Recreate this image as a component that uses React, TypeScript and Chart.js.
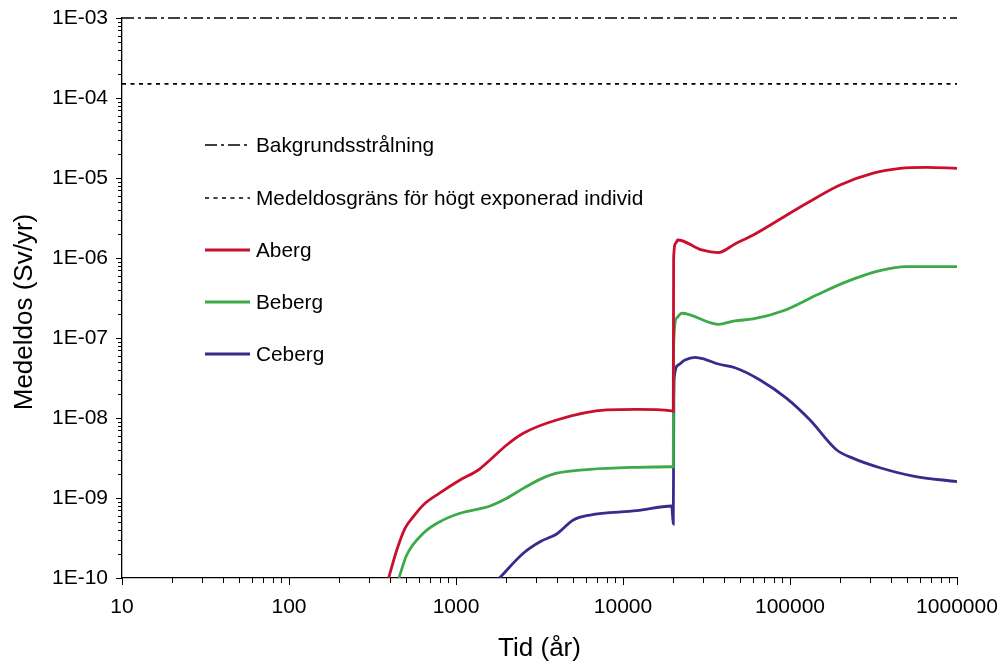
import React, { useEffect, useRef } from "react";
import { Chart, registerables } from "chart.js";

Chart.register(...registerables);

// ---------- data ----------
const xTickLabels = ["10", "100", "1000", "10000", "100000", "1000000"];
const yTickLabels = ["1E-10", "1E-09", "1E-08", "1E-07", "1E-06", "1E-05", "1E-04", "1E-03"];

const backgroundLevel = 1e-3; // Bakgrundsstrålning
const doseLimit = 1.5e-4; // Medeldosgräns för högt exponerad individ

const abergX = [395, 442, 495, 555, 637, 801, 1057, 1360, 1598, 2012, 2529, 4009, 7989, 12080, 19570, 20000, 20100, 20690, 21260, 29600, 37220, 46860, 60260, 79430, 125900, 199300, 315300, 455900, 658500, 1000000];
const abergY = [1e-10, 2.24e-10, 4.18e-10, 5.84e-10, 8.2e-10, 1.16e-9, 1.68e-9, 2.24e-9, 2.99e-9, 4.6e-9, 6.44e-9, 9.44e-9, 1.26e-8, 1.28e-8, 1.23e-8, 1.22e-8, 1.0e-6, 1.53e-6, 1.68e-6, 1.26e-6, 1.17e-6, 1.5e-6, 1.94e-6, 2.72e-6, 4.83e-6, 8.18e-6, 1.15e-5, 1.32e-5, 1.36e-5, 1.32e-5];

const bebergX = [455, 507, 637, 801, 1057, 1598, 2012, 2529, 3184, 4009, 6344, 12080, 19570, 20000, 20100, 20970, 22460, 37220, 46860, 60260, 91170, 144500, 218600, 345900, 500000, 1000000];
const bebergY = [1e-10, 1.94e-10, 3.62e-10, 5.06e-10, 6.44e-10, 7.94e-10, 9.91e-10, 1.32e-9, 1.71e-9, 2.04e-9, 2.28e-9, 2.42e-9, 2.46e-9, 2.46e-9, 8e-8, 1.78e-7, 2.04e-7, 1.48e-7, 1.64e-7, 1.73e-7, 2.19e-7, 3.45e-7, 5.06e-7, 6.94e-7, 7.79e-7, 7.79e-7];

const cebergX = [1820, 2529, 3184, 4009, 5040, 6344, 12080, 19570, 20000, 20150, 20290, 21430, 23500, 27000, 30970, 37220, 46860, 66130, 95500, 131800, 190400, 239300, 345900, 547400, 1000000];
const cebergY = [1e-10, 2.04e-10, 2.84e-10, 3.55e-10, 5.31e-10, 6.13e-10, 6.94e-10, 7.94e-10, 4.73e-10, 1.5e-8, 3.28e-8, 4.6e-8, 5.31e-8, 5.74e-8, 5.42e-8, 4.73e-8, 4.25e-8, 2.99e-8, 1.76e-8, 9.44e-9, 3.98e-9, 3.13e-9, 2.39e-9, 1.88e-9, 1.6e-9];

const seriesNames = ["Bakgrundsstrålning", "Medeldosgräns för högt exponerad individ", "Aberg", "Beberg", "Ceberg"];
const xTitle = "Tid (år)";
const yTitle = "Medeldos (Sv/yr)";

// ---------- helpers ----------
const FONT = "'Liberation Sans', Arial, Helvetica, sans-serif";

const toPoints = (xs: number[], ys: number[]) => xs.map((x, i) => ({ x, y: ys[i] }));

function buildLogTicks(lo: number, hi: number) {
  const out: { value: number }[] = [];
  for (let e = lo; e < hi; e++) {
    for (let m = 1; m <= 9; m++) {
      out.push({ value: Number((m * Math.pow(10, e)).toPrecision(12)) });
    }
  }
  out.push({ value: Number(Math.pow(10, hi).toPrecision(12)) });
  return out;
}

function decadeExp(v: number): number | null {
  const e = Math.log10(v);
  const r = Math.round(e);
  return Math.abs(e - r) < 1e-6 ? r : null;
}

const overlayPlugin = {
  id: "overlay",
  afterDraw(chart: any) {
    const ctx = chart.ctx as CanvasRenderingContext2D;
    const xs = chart.scales.x;
    const ys = chart.scales.y;
    const area = chart.chartArea;
    ctx.save();
    ctx.strokeStyle = "#000";
    ctx.lineWidth = 1;
    // x tick marks (outside, below)
    xs.ticks.forEach((t: any) => {
      const px = Math.round(xs.getPixelForValue(t.value)) + 0.5;
      const len = decadeExp(t.value) !== null ? 7 : 5;
      ctx.beginPath();
      ctx.moveTo(px, area.bottom);
      ctx.lineTo(px, area.bottom + len);
      ctx.stroke();
    });
    // y tick marks (outside, left)
    ys.ticks.forEach((t: any) => {
      const py = Math.round(ys.getPixelForValue(t.value)) + 0.5;
      const len = decadeExp(t.value) !== null ? 6 : 4;
      ctx.beginPath();
      ctx.moveTo(area.left, py);
      ctx.lineTo(area.left - len, py);
      ctx.stroke();
    });
    // y axis title
    ctx.save();
    ctx.translate(25, (area.top + area.bottom) / 2 + 14);
    ctx.rotate(-Math.PI / 2);
    ctx.font = `26px ${FONT}`;
    ctx.fillStyle = "#000";
    ctx.textAlign = "center";
    ctx.textBaseline = "middle";
    ctx.fillText(yTitle, 0, 0);
    ctx.restore();

    // legend inside plot
    const rowsY = [145, 198, 250, 302, 354];
    chart.data.datasets.forEach((ds: any, i: number) => {
      const y = rowsY[i];
      ctx.save();
      ctx.strokeStyle = ds.borderColor;
      ctx.lineWidth = ds.borderWidth;
      ctx.setLineDash(ds.borderDash || []);
      ctx.beginPath();
      ctx.moveTo(205, y);
      ctx.lineTo(250, y);
      ctx.stroke();
      ctx.restore();
      ctx.font = `20.8px ${FONT}`;
      ctx.fillStyle = "#000";
      ctx.textAlign = "left";
      ctx.textBaseline = "middle";
      ctx.fillText(ds.label, 256, y + 1);
    });
    ctx.restore();
  },
};

export default function App() {
  const canvasRef = useRef<HTMLCanvasElement | null>(null);

  useEffect(() => {
    document.body.style.margin = "0";
    const canvas = canvasRef.current;
    if (!canvas) return;

    const lineCommon = {
      pointRadius: 0,
      fill: false,
      cubicInterpolationMode: "monotone" as const,
    };

    const chart = new Chart(canvas, {
      type: "line",
      data: {
        datasets: [
          {
            label: seriesNames[0],
            data: toPoints([10, 1e6], [backgroundLevel, backgroundLevel]),
            borderColor: "#000000",
            borderWidth: 1.4,
            borderDash: [12, 4, 3, 4],
            pointRadius: 0,
            clip: false as any,
          },
          {
            label: seriesNames[1],
            data: toPoints([10, 1e6], [doseLimit, doseLimit]),
            borderColor: "#000000",
            borderWidth: 1.6,
            borderDash: [4, 4.5],
            pointRadius: 0,
            clip: false as any,
          },
          {
            label: seriesNames[2],
            data: toPoints(abergX, abergY),
            borderColor: "#C8102E",
            borderWidth: 2.8,
            ...lineCommon,
          },
          {
            label: seriesNames[3],
            data: toPoints(bebergX, bebergY),
            borderColor: "#3BAA47",
            borderWidth: 2.8,
            ...lineCommon,
          },
          {
            label: seriesNames[4],
            data: toPoints(cebergX, cebergY),
            borderColor: "#3A2A8C",
            borderWidth: 2.8,
            ...lineCommon,
          },
        ] as any,
      },
      options: {
        animation: false,
        responsive: false,
        parsing: false as any,
        normalized: true,
        layout: { padding: { top: 18, right: 44, bottom: 0, left: 0 } },
        plugins: {
          legend: { display: false },
          tooltip: { enabled: false },
        },
        scales: {
          x: {
            type: "logarithmic",
            min: 10,
            max: 1e6,
            grid: { display: false, drawTicks: false },
            border: { display: true, color: "#000", width: 1.3 },
            afterBuildTicks: (s: any) => {
              s.ticks = buildLogTicks(1, 6);
            },
            afterFit: (s: any) => {
              s.height = 93;
              s.paddingLeft = 0;
              s.paddingRight = 0;
            },
            ticks: {
              autoSkip: false,
              maxRotation: 0,
              minRotation: 0,
              padding: 17,
              color: "#000",
              font: { family: FONT, size: 21 },
              callback: (v: any) => {
                const e = decadeExp(Number(v));
                return e === null ? "" : xTickLabels[e - 1] ?? "";
              },
            },
            title: {
              display: true,
              text: xTitle,
              color: "#000",
              font: { family: FONT, size: 26 },
              padding: { top: 0, bottom: 7 },
            },
          },
          y: {
            type: "logarithmic",
            min: 1e-10,
            max: 1e-3,
            grid: { display: false, drawTicks: false },
            border: { display: true, color: "#000", width: 1.3 },
            afterBuildTicks: (s: any) => {
              s.ticks = buildLogTicks(-10, -3);
            },
            afterFit: (s: any) => {
              s.width = 122;
              s.paddingTop = 0;
              s.paddingBottom = 0;
            },
            ticks: {
              autoSkip: false,
              padding: 14,
              color: "#000",
              font: { family: FONT, size: 21 },
              callback: (v: any) => {
                const e = decadeExp(Number(v));
                return e === null ? "" : yTickLabels[e + 10] ?? "";
              },
            },
          },
        },
      } as any,
      plugins: [overlayPlugin],
    });

    return () => chart.destroy();
  }, []);

  return (
    <div style={{ width: 1001, height: 671 }}>
      <canvas ref={canvasRef} width={1001} height={671} style={{ display: "block" }} />
    </div>
  );
}
